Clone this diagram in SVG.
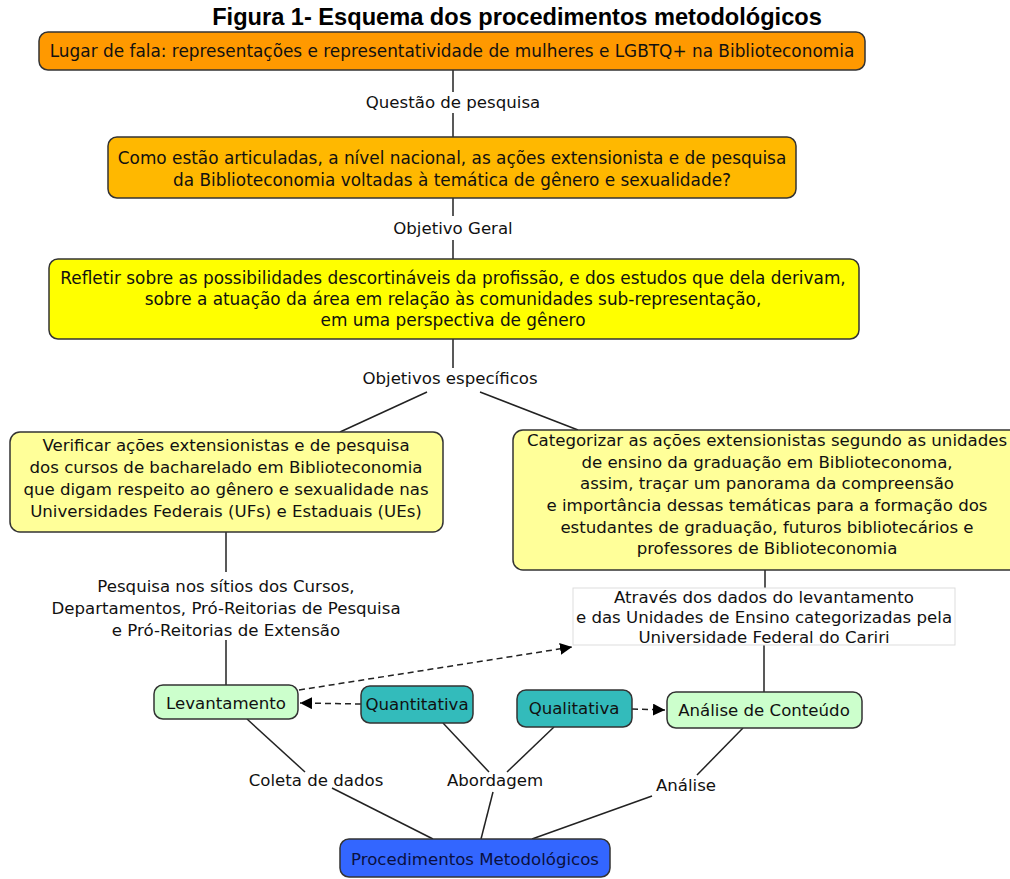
<svg xmlns="http://www.w3.org/2000/svg" width="1010" height="879" viewBox="0 0 1010 879">
<style>
.t{font-family:"DejaVu Sans",Verdana,sans-serif;font-size:16.6px;fill:#111;text-anchor:middle}
.big{font-size:16.9px}
.title{font-family:"Liberation Sans",Arial,sans-serif;font-size:23.6px;font-weight:bold;fill:#000;text-anchor:middle}
.box{stroke:#333;stroke-width:1.5}
.ln{stroke:#222;stroke-width:1.5;fill:none}
.dash{stroke:#222;stroke-width:1.5;fill:none;stroke-dasharray:6,4}
</style>
<defs>
<marker id="arr" viewBox="0 0 12 12" refX="12" refY="6" markerWidth="12" markerHeight="12" markerUnits="userSpaceOnUse" orient="auto"><path d="M0,0 L12,6 L0,12 z" fill="#000"/></marker>
</defs>
<rect width="1010" height="879" fill="#fff"/>
<text class="title" x="517" y="25">Figura 1- Esquema dos procedimentos metodológicos</text>

<g id="connectors">
<line class="ln" x1="453" y1="70" x2="453" y2="92"/>
<line class="ln" x1="453" y1="113" x2="453" y2="137"/>
<line class="ln" x1="453" y1="198" x2="453" y2="216"/>
<line class="ln" x1="453" y1="240" x2="453" y2="259"/>
<line class="ln" x1="453" y1="339" x2="453" y2="368"/>
<line class="ln" x1="427" y1="392" x2="340" y2="432"/>
<line class="ln" x1="480" y1="392" x2="578" y2="430"/>
<line class="ln" x1="226" y1="532" x2="226" y2="572"/>
<line class="ln" x1="226" y1="640" x2="226" y2="685"/>
<line class="ln" x1="765" y1="570" x2="765" y2="588"/>
<line class="ln" x1="764" y1="645" x2="764" y2="692"/>
<line class="ln" x1="247" y1="719" x2="305" y2="772"/>
<line class="ln" x1="443" y1="723" x2="489" y2="772"/>
<line class="ln" x1="554" y1="727" x2="507" y2="772"/>
<line class="ln" x1="743" y1="728" x2="697" y2="775"/>
<line class="ln" x1="332" y1="788" x2="433" y2="839"/>
<line class="ln" x1="493" y1="792" x2="481" y2="839"/>
<line class="ln" x1="652" y1="796" x2="532" y2="839"/>
<line class="dash" x1="361" y1="704" x2="300" y2="703" marker-end="url(#arr)"/>
<line class="dash" x1="632" y1="709" x2="665" y2="710" marker-end="url(#arr)"/>
<line class="dash" x1="299" y1="690" x2="572" y2="647" marker-end="url(#arr)"/>
<text class="t" x="453" y="108">Questão de pesquisa</text>
<text class="t" x="453" y="234">Objetivo Geral</text>
<text class="t" x="450" y="384">Objetivos específicos</text>
<text class="t" x="226" y="592">Pesquisa nos sítios dos Cursos,</text>
<text class="t" x="226" y="614">Departamentos, Pró-Reitorias de Pesquisa</text>
<text class="t" x="226" y="636">e Pró-Reitorias de Extensão</text>
<text class="t" x="316" y="786">Coleta de dados</text>
<text class="t" x="495" y="786">Abordagem</text>
<text class="t" x="686" y="791">Análise</text>
</g>

<g id="lugar">
<rect class="box" x="39" y="32" width="826" height="38" rx="9" fill="#FF9900"/>
<text class="t big" x="452" y="57">Lugar de fala: representações e representatividade de mulheres e LGBTQ+ na Biblioteconomia</text>
</g>
<g id="questao">
<rect class="box" x="108" y="137" width="688" height="61" rx="9" fill="#FFB800"/>
<text class="t big" x="452" y="164">Como estão articuladas, a nível nacional, as ações extensionista e de pesquisa</text>
<text class="t big" x="452" y="186">da Biblioteconomia voltadas à temática de gênero e sexualidade?</text>
</g>
<g id="objetivo-geral">
<rect class="box" x="49" y="259" width="810" height="80" rx="9" fill="#FFFF00"/>
<text class="t big" x="453" y="284">Refletir sobre as possibilidades descortináveis da profissão, e dos estudos que dela derivam,</text>
<text class="t big" x="453" y="305">sobre a atuação da área em relação às comunidades sub-representação,</text>
<text class="t big" x="453" y="326">em uma perspectiva de gênero</text>
</g>
<g id="verificar">
<rect class="box" x="10" y="432" width="433" height="100" rx="10" fill="#FFFF99"/>
<text class="t" x="226" y="451">Verificar ações extensionistas e de pesquisa</text>
<text class="t" x="226" y="473">dos cursos de bacharelado em Biblioteconomia</text>
<text class="t" x="226" y="495">que digam respeito ao gênero e sexualidade nas</text>
<text class="t" x="226" y="517">Universidades Federais (UFs) e Estaduais (UEs)</text>
</g>
<g id="categorizar">
<rect class="box" x="513" y="430" width="515" height="140" rx="10" fill="#FFFF99"/>
<text class="t" x="767" y="446">Categorizar as ações extensionistas segundo as unidades</text>
<text class="t" x="767" y="468">de ensino da graduação em Biblioteconoma,</text>
<text class="t" x="767" y="489">assim, traçar um panorama da compreensão</text>
<text class="t" x="767" y="511">e importância dessas temáticas para a formação dos</text>
<text class="t" x="767" y="533">estudantes de graduação, futuros bibliotecários e</text>
<text class="t" x="767" y="554">professores de Biblioteconomia</text>
</g>
<g id="atraves">
<rect x="573" y="588" width="382" height="57" fill="#fff" stroke="#ddd" stroke-width="1"/>
<text class="t" x="764" y="603">Através dos dados do levantamento</text>
<text class="t" x="764" y="623">e das Unidades de Ensino categorizadas pela</text>
<text class="t" x="764" y="643">Universidade Federal do Cariri</text>
</g>
<g id="levantamento">
<rect class="box" x="154" y="685" width="144" height="34" rx="9" fill="#CCFFCC"/>
<text class="t" x="226" y="709">Levantamento</text>
</g>
<g id="quantitativa">
<rect class="box" x="361" y="686" width="112" height="37" rx="9" fill="#33BBBB"/>
<text class="t" x="417" y="710">Quantitativa</text>
</g>
<g id="qualitativa">
<rect class="box" x="517" y="690" width="115" height="37" rx="9" fill="#33BBBB"/>
<text class="t" x="574" y="714">Qualitativa</text>
</g>
<g id="analise-conteudo">
<rect class="box" x="667" y="692" width="195" height="36" rx="9" fill="#CCFFCC"/>
<text class="t" x="764" y="716">Análise de Conteúdo</text>
</g>
<g id="procedimentos">
<rect class="box" x="340" y="839" width="270" height="38" rx="9" fill="#3366FF"/>
<text class="t" x="475" y="865" style="fill:#0a1040">Procedimentos Metodológicos</text>
</g>
</svg>
